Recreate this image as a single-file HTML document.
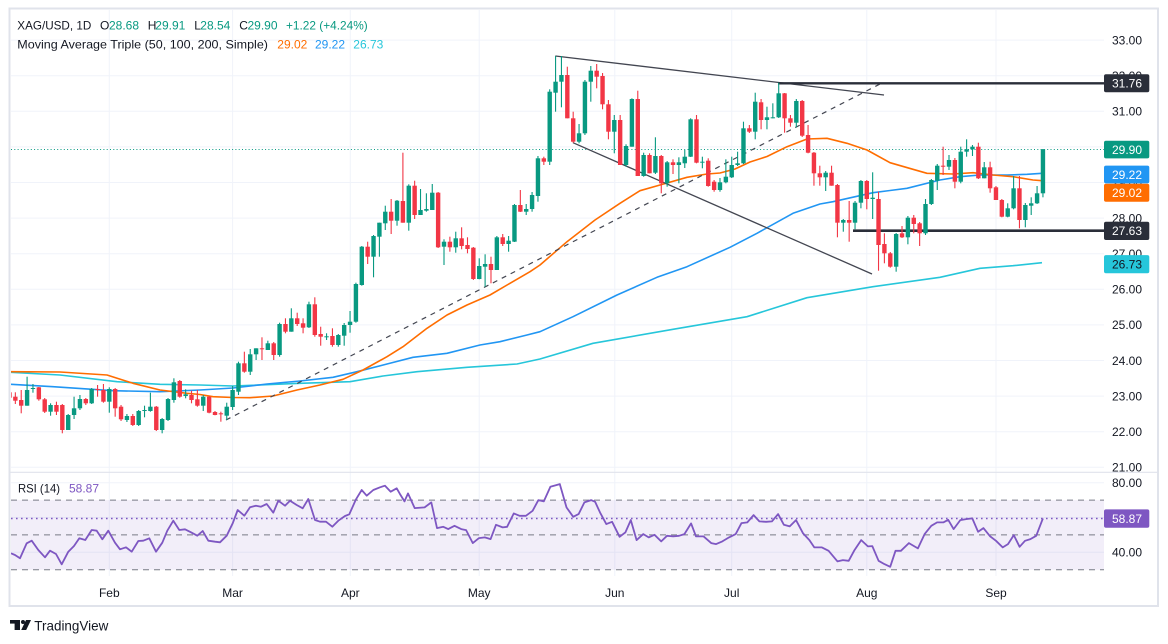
<!DOCTYPE html>
<html>
<head>
<meta charset="utf-8">
<style>
html,body{margin:0;padding:0;background:#ffffff;}
svg{display:block;}
text{font-family:"Liberation Sans",Arial,sans-serif;}
</style>
</head>
<body>
<svg id="c" width="1168" height="644" viewBox="0 0 1168 644" xmlns="http://www.w3.org/2000/svg">
<defs>
<clipPath id="mainClip"><rect x="11" y="10" width="1093" height="461"/></clipPath>
<clipPath id="rsiClip"><rect x="11" y="473" width="1093" height="103"/></clipPath>
</defs>
<rect x="0" y="0" width="1168" height="644" fill="#ffffff"/>

<!-- grid -->
<g stroke="#f0f3fa" stroke-width="1" id="grid">
<line x1="11" x2="1104" y1="40.1" y2="40.1"/>
<line x1="11" x2="1104" y1="75.7" y2="75.7"/>
<line x1="11" x2="1104" y1="111.3" y2="111.3"/>
<line x1="11" x2="1104" y1="146.9" y2="146.9"/>
<line x1="11" x2="1104" y1="182.5" y2="182.5"/>
<line x1="11" x2="1104" y1="218.1" y2="218.1"/>
<line x1="11" x2="1104" y1="253.7" y2="253.7"/>
<line x1="11" x2="1104" y1="289.3" y2="289.3"/>
<line x1="11" x2="1104" y1="324.9" y2="324.9"/>
<line x1="11" x2="1104" y1="360.5" y2="360.5"/>
<line x1="11" x2="1104" y1="396.1" y2="396.1"/>
<line x1="11" x2="1104" y1="431.7" y2="431.7"/>
<line x1="11" x2="1104" y1="467.3" y2="467.3"/>
<line x1="11" x2="1104" y1="482.7" y2="482.7"/>
<line x1="11" x2="1104" y1="517.5" y2="517.5"/>
<line x1="11" x2="1104" y1="552.3" y2="552.3"/>
<line x1="109.3" x2="109.3" y1="10" y2="576"/>
<line x1="232.6" x2="232.6" y1="10" y2="576"/>
<line x1="350.3" x2="350.3" y1="10" y2="576"/>
<line x1="479.2" x2="479.2" y1="10" y2="576"/>
<line x1="614.8" x2="614.8" y1="10" y2="576"/>
<line x1="731.7" x2="731.7" y1="10" y2="576"/>
<line x1="866.8" x2="866.8" y1="10" y2="576"/>
<line x1="996" x2="996" y1="10" y2="576"/>
</g>

<!-- RSI band and levels -->
<rect x="11" y="500.1" width="1093" height="69.6" fill="#7e57c2" fill-opacity="0.1"/>
<g stroke="#787b86" stroke-width="1" stroke-dasharray="6 5">
<line x1="11" x2="1104" y1="500.1" y2="500.1"/>
<line x1="11" x2="1104" y1="534.9" y2="534.9"/>
<line x1="11" x2="1104" y1="569.7" y2="569.7"/>
</g>
<line x1="11" x2="1104" y1="518.5" y2="518.5" stroke="#7e57c2" stroke-width="1.6" stroke-dasharray="1.6 3.4"/>

<g clip-path="url(#mainClip)">
<line x1="11" x2="1104" y1="149.5" y2="149.5" stroke="#089981" stroke-width="1" stroke-dasharray="1 2.3"/>
<polyline fill="none" stroke="#26c6da" stroke-width="1.6" stroke-linejoin="round" points="11,372.3 60,375 117,381.7 160,384.3 200,385 233,386 300,383.3 350,381.7 383,376 417,371.7 467,367.3 517,364 540,359 593,343.3 673,329.3 747,316.7 807,297.7 873,286.7 940,277.3 980,268.3 1013,265.7 1042,262.7"/>
<polyline fill="none" stroke="#2196f3" stroke-width="1.6" stroke-linejoin="round" points="11,384.3 53,386.7 113,390.7 160,391.7 200,390 233,388 267,384 300,381 333,377.3 357,371.7 387,364 413,357.3 447,353.3 480,345 500,341.7 527,335 540,331.7 573,316.7 617,295 657,277.3 687,266.7 730,247.3 757,233.3 793,213.3 820,204 833,201.7 873,192.7 907,188.3 940,180 960,176.7 980,175 1007,175 1027,174.3 1042,173.3"/>
<polyline fill="none" stroke="#ff6d00" stroke-width="1.6" stroke-linejoin="round" points="11,371.7 60,372 107,375 133,383.3 160,390 187,393.3 200,394.5 213,396.7 233,397.5 250,397.7 273,396 297,390 320,385 343,379.3 363,370 387,356.7 403,346.7 427,328.3 447,315 467,305 490,295 510,283.3 530,271.7 540,265 567,241.7 595,220 620,203.3 640,190.7 660,185 687,177.3 707,174 720,173 735,169 750,162 767,156.5 787,146.7 807,139 827,138.3 847,143.3 867,150 890,162.7 913,169.3 927,173.3 953,174 973,172.7 993,175 1013,176.7 1033,180 1042,180.7"/>
<line x1="226" y1="420" x2="880" y2="84" stroke="#434651" stroke-width="1.2" stroke-dasharray="5 5"/>
<line x1="555.3" y1="56" x2="884" y2="95" stroke="#434651" stroke-width="1.3"/>
<line x1="573" y1="142.7" x2="872" y2="274" stroke="#434651" stroke-width="1.3"/>
<line x1="778" y1="83.3" x2="1104" y2="83.3" stroke="#2a2e39" stroke-width="2.4"/>
<line x1="853" y1="230.7" x2="1104" y2="230.7" stroke="#2a2e39" stroke-width="2.6"/>
<g id="candles"></g>
</g>

<g clip-path="url(#rsiClip)">
<polyline fill="none" stroke="#7e57c2" stroke-width="1.8" stroke-linejoin="round" points="11,553.3 15,555 20,558.3 26.7,543.3 31.7,540.7 38.3,550 45,557.3 50,550.7 56,554 61.7,564.3 68.3,551.7 74,546 79.3,538.3 85.3,540 91.7,530 96.7,530.7 102.3,539.3 108.3,530.7 115,542.7 120,549.3 126,547.3 131.7,551.7 138.3,541 143.3,540.7 149.3,538.3 156,551.7 162.3,542.7 167.3,530.7 173.3,520.7 179.3,530 185,529.3 191,532.3 197.3,535.7 202.7,531 208.3,540.7 215,541.7 220,542.3 226.7,535.7 232.7,523.3 237.7,510 244.3,515.7 250,507.3 256,505.7 261,506.7 266.7,504 273.3,512.7 278.3,500.7 285,505.7 290,500.7 296.7,505 302.7,508.3 308.3,499 315,520 320,521.7 326,521.7 332.3,526.7 338.3,520.7 345,516 349.3,514.3 356,499.3 361.7,490 366.7,495.7 373.3,490 380,487.3 385,485.7 390.7,491.7 396.7,488.3 400,494.1 404.5,501.4 408,493.4 414.7,508.1 424.6,507.4 431.3,502.4 437,528.1 443.3,526.8 448.2,529.1 454.5,525.8 461.2,529.1 466.1,530.1 472.8,543.1 479,538.1 484.8,537.4 490.6,539.1 496,524.8 502.7,527.4 507.1,526.8 513.8,513.4 519.6,515.8 525.9,515.8 532.6,510.8 538.4,500.1 543.8,501.4 550.4,486.8 559.8,484.1 566.5,507.4 573.2,516.8 578.6,514.1 584.4,502.4 591.1,500.1 595.1,501.8 600,512.4 606.3,524.1 612.1,521.8 619.6,536.8 625.4,532.4 630.8,520.1 636.6,540.1 643.3,534.1 648.7,537.4 654.5,534.8 661.2,541.4 667,535.8 673.2,536.4 679,535.8 684.4,534.1 691.1,523.4 696,536.4 703.6,536.4 711.2,543.1 716.1,544.1 722.3,541.4 729,537.4 735.7,534.1 741.5,523.1 747.3,522.4 753.6,515.1 759.4,521.4 766.1,521.8 771.9,521.4 778.1,514.1 783.9,524.8 789.7,526.4 796,520.1 803.1,533.4 809.4,540.1 814.3,547.4 821.9,547.4 828.6,550.8 837.5,561.4 842.9,560.1 848.7,560.8 854.5,550.1 861.2,540.1 867.9,546.4 872.3,546.1 878.6,560.8 884.4,564.1 890.2,566.8 895.5,550.8 900.9,550.8 908.9,543.1 917.9,548.4 924.6,534.1 931.3,525.8 937.1,522.4 943.3,522.4 948.2,519.8 953.6,529.1 960.3,520.1 966.1,519.1 972.3,518.4 978.1,531.8 983.4,528.1 990.2,536.4 996,540.8 1002.7,547.4 1008,544.1 1013.8,535.1 1019.6,546.8 1025,540.8 1030.4,539.1 1036.2,535.8 1042.9,518.4"/>
</g>

<line x1="10" x2="1158" y1="472.3" y2="472.3" stroke="#e0e3eb" stroke-width="1.2"/>
<rect x="9.5" y="8.5" width="1148.5" height="597.5" fill="none" stroke="#e0e3eb" stroke-width="2"/>

<g font-size="12" fill="#131722">
<text x="1112" y="44.4">33.00</text>
<text x="1112" y="80">32.00</text>
<text x="1112" y="115.6">31.00</text>
<text x="1112" y="151.2">30.00</text>
<text x="1112" y="186.8">29.00</text>
<text x="1112" y="222.4">28.00</text>
<text x="1112" y="258">27.00</text>
<text x="1112" y="293.6">26.00</text>
<text x="1112" y="329.2">25.00</text>
<text x="1112" y="364.8">24.00</text>
<text x="1112" y="400.4">23.00</text>
<text x="1112" y="436">22.00</text>
<text x="1112" y="471.6">21.00</text>
<text x="1112" y="487">80.00</text>
<text x="1112" y="556.6">40.00</text>
</g>

<g font-size="12">
<rect x="1104" y="74.3" width="45.3" height="18" rx="2" fill="#2a2e39"/>
<text x="1112" y="87.6" fill="#ffffff">31.76</text>
<rect x="1104" y="140.8" width="45.3" height="17.6" rx="2" fill="#089981"/>
<text x="1112" y="153.9" fill="#ffffff">29.90</text>
<rect x="1104" y="165.6" width="45.3" height="17.8" rx="2" fill="#2196f3"/>
<text x="1112" y="178.8" fill="#ffffff">29.22</text>
<rect x="1104" y="183.8" width="45.3" height="17.9" rx="2" fill="#ff6d00"/>
<text x="1112" y="197.1" fill="#ffffff">29.02</text>
<rect x="1104" y="221.8" width="45.3" height="18.2" rx="2" fill="#2a2e39"/>
<text x="1112" y="235.2" fill="#ffffff">27.63</text>
<rect x="1104" y="255.1" width="45.3" height="18.2" rx="2" fill="#26c6da"/>
<text x="1112" y="268.5" fill="#131722">26.73</text>
<rect x="1104" y="509.4" width="45.3" height="18.3" rx="2" fill="#7e57c2"/>
<text x="1112" y="522.8" fill="#ffffff">58.87</text>
</g>

<g font-size="12" fill="#131722" text-anchor="middle">
<text x="109.3" y="597">Feb</text>
<text x="232.6" y="597">Mar</text>
<text x="350.3" y="597">Apr</text>
<text x="479.2" y="597">May</text>
<text x="614.8" y="597">Jun</text>
<text x="731.7" y="597">Jul</text>
<text x="866.8" y="597">Aug</text>
<text x="996" y="597">Sep</text>
</g>

<g font-size="12">
<text x="17.3" y="29.3" fill="#131722" textLength="74" lengthAdjust="spacingAndGlyphs">XAG/USD, 1D</text>
<text x="100" y="29.3" fill="#131722">O</text>
<text x="109" y="29.3" fill="#089981">28.68</text>
<text x="147.7" y="29.3" fill="#131722">H</text>
<text x="155.3" y="29.3" fill="#089981">29.91</text>
<text x="194.3" y="29.3" fill="#131722">L</text>
<text x="200.3" y="29.3" fill="#089981">28.54</text>
<text x="239.3" y="29.3" fill="#131722">C</text>
<text x="247.5" y="29.3" fill="#089981">29.90</text>
<text x="286" y="29.3" fill="#089981" textLength="81.7" lengthAdjust="spacingAndGlyphs">+1.22 (+4.24%)</text>
<text x="17.3" y="48.4" fill="#131722" textLength="250.7" lengthAdjust="spacingAndGlyphs">Moving Average Triple (50, 100, 200, Simple)</text>
<text x="277.3" y="48.4" fill="#ff6d00">29.02</text>
<text x="315" y="48.4" fill="#2196f3">29.22</text>
<text x="353.3" y="48.4" fill="#26c6da">26.73</text>
<text x="18" y="492.6" fill="#131722" textLength="42" lengthAdjust="spacingAndGlyphs">RSI (14)</text>
<text x="69" y="492.6" fill="#7e57c2">58.87</text>
</g>

<g fill="#131722">
<rect x="10" y="620" width="10" height="3.6"/>
<rect x="14.6" y="620" width="5.4" height="10"/>
<circle cx="23" cy="622" r="2"/>
<polygon points="26,620 31,620 26.2,630 21.2,630"/>
</g>
<text x="34.3" y="630.6" font-size="14" fill="#131722" textLength="74" lengthAdjust="spacingAndGlyphs">TradingView</text>
</svg>

<script>
(function(){
var d=[
[392.3,397.7,388,400],[396.7,400.7,392.3,404],[400,405.7,390,413.3],[405.7,390,376.7,405.7],[388.7,388,384,392.7],
[387.3,399.3,387,400.7],[399.3,411.7,398,413],[411.7,405,403.3,415.7],[405,411.7,401.7,415],[405,430,404,433.3],
[430,415,414,430],[415,408.3,396.7,419],[408.3,399,395,410],[399,403.3,398,405],[403.3,389,388,404],
[389,390,385,396.7],[390,401.7,384,402.7],
[401.7,389,387.3,412.7],[389,408.3,388,416.7],[406.7,419.3,405,421],[420,416,414,422],[416,425,414,426],
[425,411,410,426],[411,410,405.7,417.3],[411,406.7,392.7,411.7],[406.7,430,406,431],[430,419,418,433.3],
[420,399,398,421],[400,382.3,378.3,402.7],[381,396.7,380,397.7],[396,394.3,389.3,398.3],[395,400,390.7,403.3],
[399.3,405.7,390,406.7],[405.7,396.7,395,411],[396.7,412.7,396,413.3],[412,415,411,415.3],[413.3,414,411.7,421.7],
[415.7,406.7,402.7,420],[407,390,386,410],[391.7,363.3,361.7,395],[363.3,371.7,351.7,372.7],[371.7,354.3,349,375],
[354.3,348.3,348.3,360],[348.3,349.3,337.3,360],[350,343.3,340.7,350],[343.3,355,342,360],[355,324,322.7,356.7],
[324,331.7,318.3,333.3],[331.7,318.3,308.3,331.7],[318.3,324,312.7,326],[323.3,327.7,318.3,333.3],[327.3,304.3,301.7,328],
[304.3,335,297.3,336.7],[334,336.7,326.7,345.7],[337,336.3,333.3,340],[336,345,328.3,346.7],[345,335,334,346.7],
[335.7,325,323,345.7],[325,321.7,311,332.7],[321.7,284,282.7,322.7],[285,246.7,246,285.7],[246.7,256.7,241.7,264],
[256.7,236,235,277.3],[236.7,222.7,222.7,256.7],[223.3,211.7,205.7,230],[211.7,220.7,199,234],[220.7,200.7,200,225.7],
[201,222.7,152.7,222.7],[222.7,185.7,184.3,230.7],[185.7,215,180.7,219],[215,210,189,215],[210.7,209,193.3,211.7],
[210,192.7,184,210],[192.7,247.3,192,248],[246.7,241.7,239.3,265],[241.7,247.3,236.7,251.7],[247.3,238.3,231.7,252.7],
[238.3,246,227.3,249.3],[245,249,237.3,253.3],[247.7,279,247,280],[279,266,258.3,279.3],[266.7,264,254.3,286.7],
[264,270,256.7,283.3],[270,237.3,236,270],[237.3,244,234,246],[244,240.7,236,251.7],[241.7,205,204,242],
[205,211.7,190,212],[211.7,209,204,215],[209,195,192,211.7],[196,158.3,156,201.7],[158.3,161.7,156.7,165],
[161.7,91.7,89.3,165],[92.7,81.7,56,111.7],[81.7,75,56,107.3],[75,118.3,66.7,118.3],[118.3,141.7,111.7,142.7],
[141.7,133.3,124,143.3],[133.3,81.7,80,135],[81.7,70.7,66,101.7],[70.7,76.7,64,88.3],[76,104.3,73,109.3],
[104.3,131.7,100,139.3],[131.7,120,115,153.3],[120,165,115,165],[165,146,144.3,166.7],[146.7,99,98.3,146.7],
[99,176,90.7,176],[176,155,152.7,176.7],[155,173.3,153.3,173.3],[172.7,156,137.3,174],[156,183.3,155,193.3],
[183.3,162.3,161,186.7],[162.3,165,159.3,174],[165,162.3,157.3,183.3],[163.3,156.7,150,168],[156.7,119.3,118.3,157],
[119.3,162.7,115,163.3],[162.7,161.7,156.7,168.3],[160.7,186,158.3,186.7],[181.7,190,180,191.7],[190,182.3,178,191.7],
[182.3,176.7,159.3,183.3],[177.3,165,156.7,178],[165,163.3,151.7,166],[163.3,128.3,121.7,164],[128.3,131.7,125,133],
[131.7,101.7,92.7,139.3],[102.3,120,99,129.3],[120,117.3,106.7,129.3],[117.8,117.3,103.3,118.3],[117.3,93.3,82.7,118],
[93.3,118.3,93,132.7],[118.3,122.7,115,126.7],[122.7,101,99,127.3],[101,135.7,100,137],[135,152.7,125,153.3],
[152.7,173.3,152,185.7],[173.3,177.3,165.7,185.7],[177.3,172.7,171,191],[172.7,185.7,165.7,185.7],[185,222.7,184,237.3],
[222.7,220,219,231.7],[220,222.7,201,241.7],[222.7,202.7,201,229.3],[202.7,181,180,208.3],[181,199,180,209.3],
[199,197.7,172.3,219],[199,245,191.7,270.7],[244,253.3,233.3,263.3],[253.3,266.7,252,267.7],[266.7,234,233,271.7],
[233.3,237.3,226,238],[237.3,217.7,216,244.3],[217.7,224,215,233.3],[223.3,233.3,222,246],[233.3,204,199,235],
[204,180,179,205],[180.7,165.7,164,190],[165.7,166.7,146.7,175],[166.7,160,155,170],[160,181.7,158,188.3],
[181.7,151.7,146.7,183.3],[151.7,149.3,139.3,156.7],[149.3,146.7,145,156],[146.7,178.3,142.7,179],[178.3,167.3,162,178.3],
[167.3,188.3,161.7,192.7],[187.3,200,186,200],[200,216.7,199,217.3],[216.7,208.3,203.3,217.3],[208.3,188.3,176,209.3],
[188.3,220,176,228.3],[220,205,203,227.3],[205.7,203.3,197.3,215],[203.3,193.3,186,204],[193.3,149.3,149,197.3]
];
var ns="http://www.w3.org/2000/svg";
var g=document.getElementById("candles");
function mk(x,y,w,h,col){
  var r=document.createElementNS(ns,"rect");
  r.setAttribute("x",x.toFixed(2));
  r.setAttribute("y",y.toFixed(2));
  r.setAttribute("width",w.toFixed(2));
  r.setAttribute("height",h.toFixed(2));
  r.setAttribute("fill",col);
  g.appendChild(r);
}
for(var k=0;k!==d.length;k++){
  var i=k-17;
  var x=109.3+i*5.872;
  var o=d[k][0],c=d[k][1],h=d[k][2],l=d[k][3];
  var col=(o-c>=0)?"#089981":"#f23645";
  var top=Math.min(o,c), bh=Math.max(Math.abs(o-c),1);
  mk(x-0.55,h,1.1,Math.max(l-h,1),col);
  mk(x-2.2,top,4.4,bh,col);
}
})();
</script>
</body>
</html>
